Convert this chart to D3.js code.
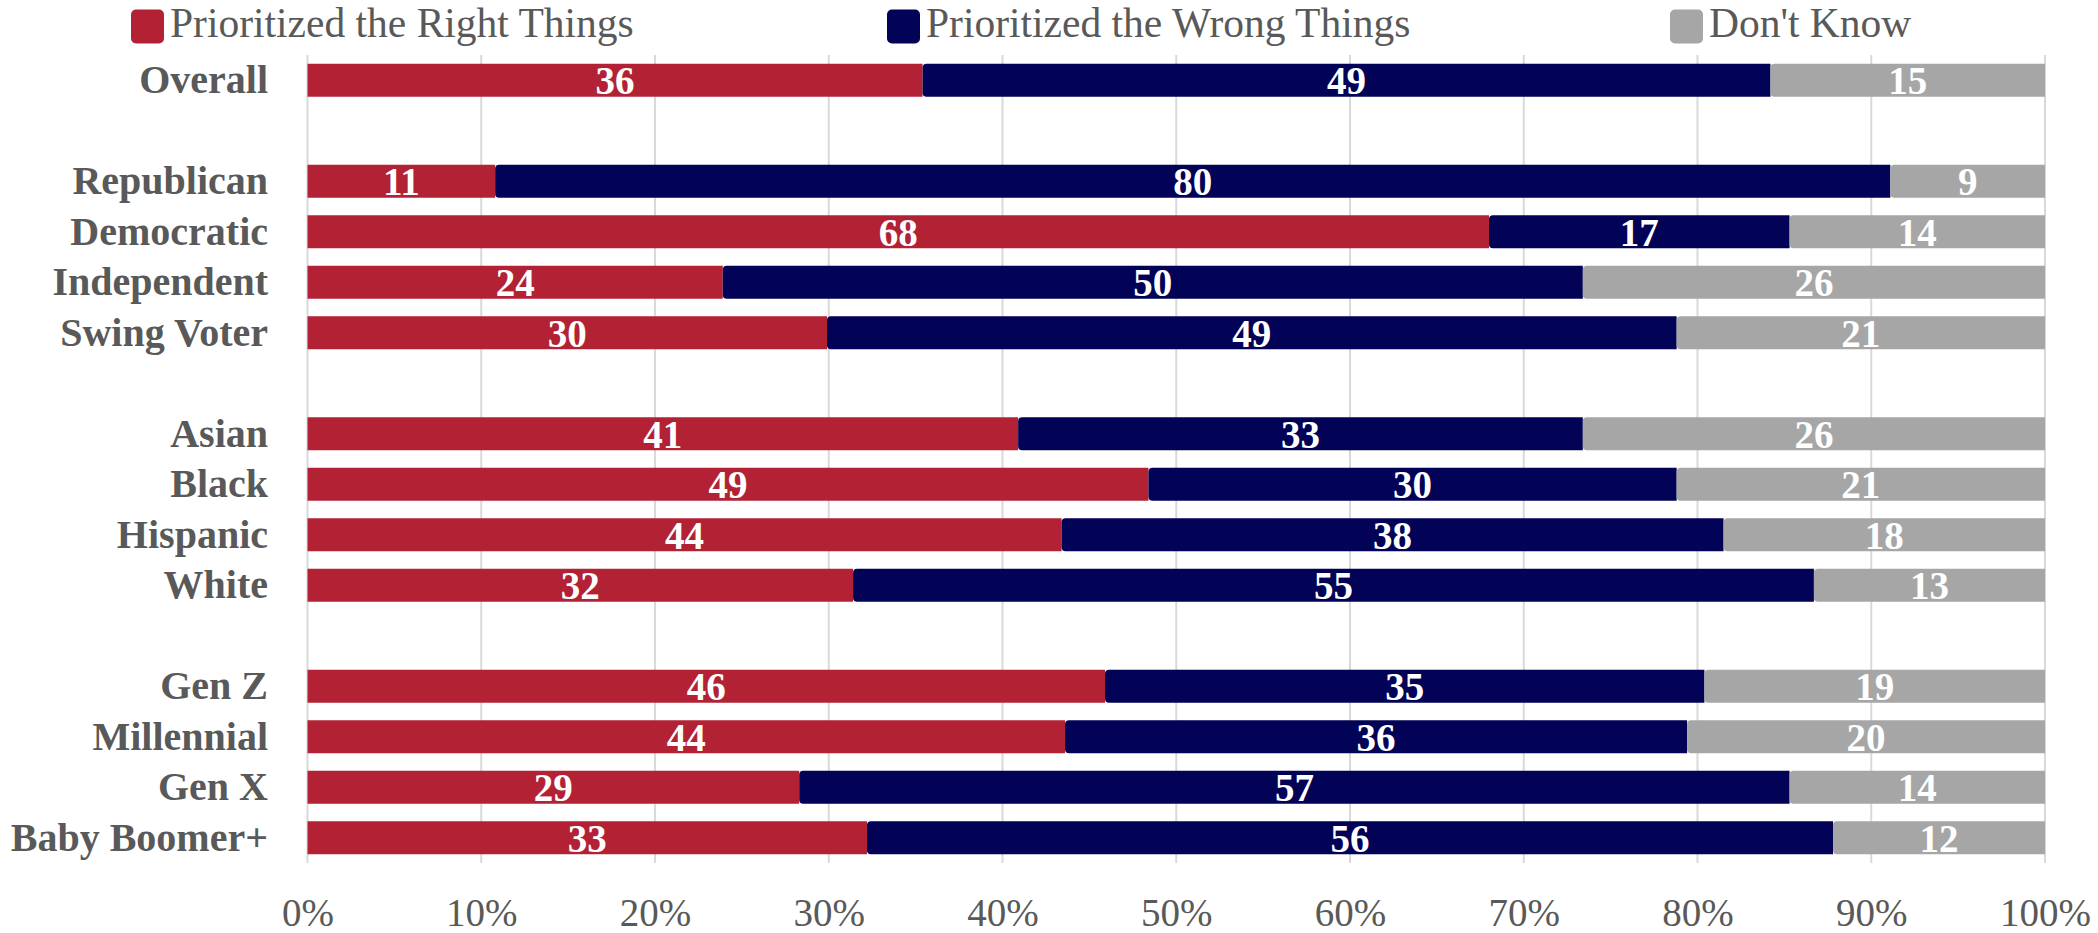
<!DOCTYPE html>
<html><head><meta charset="utf-8">
<script src="https://cdn.jsdelivr.net/npm/d3@7"></script>
<style>html,body{margin:0;padding:0;background:#fff;} svg{display:block}</style>
</head><body>
<svg id="chart" width="2098" height="933"></svg>
<script>
// ---- data ----
const categories = ["Overall","Republican","Democratic","Independent","Swing Voter","Asian","Black","Hispanic","White","Gen Z","Millennial","Gen X","Baby Boomer+"];
const groupOf = [0,1,1,1,1,2,2,2,2,3,3,3,3];
const seriesNames = ["Prioritized the Right Things","Prioritized the Wrong Things","Don't Know"];
// bar shares (%)
const rightThings = [35.4,10.8,68.0,23.9,29.9,40.9,48.4,43.4,31.4,45.9,43.6,28.3,32.2];
const wrongThings = [48.8,80.3,17.3,49.5,48.9,32.5,30.4,38.1,55.3,34.5,35.8,57.0,55.6];
const dontKnow    = [15.8, 8.9,14.7,26.6,21.2,26.6,21.2,18.5,13.3,19.6,20.6,14.7,12.2];
// printed data labels
const rightLabels = [36,11,68,24,30,41,49,44,32,46,44,29,33];
const wrongLabels = [49,80,17,50,49,33,30,38,55,35,36,57,56];
const dkLabels    = [15, 9,14,26,21,26,21,18,13,19,20,14,12];
const tickValues = [0,0.1,0.2,0.3,0.4,0.5,0.6,0.7,0.8,0.9,1.0];
const colors = ["#B22234","#020256","#A6A6A6"];

// ---- build table ----
const keys = ["right","wrong","dk"];
const labelArrays = [rightLabels, wrongLabels, dkLabels];
const rows = categories.map((c,i)=>({cat:c, idx:i, right:rightThings[i], wrong:wrongThings[i], dk:dontKnow[i]}));
const slots = [];
categories.forEach((c,i)=>{ if(i>0 && groupOf[i]!==groupOf[i-1]) slots.push("__gap"+groupOf[i]); slots.push(c); });

const svg = d3.select("#chart");
const x = d3.scaleLinear().domain([0,1]).range([307.5,2045]);
const y = d3.scaleBand().domain(slots).range([55,863]).paddingInner(0.35).paddingOuter(0.175);

const stack = d3.stack().keys(keys).offset(d3.stackOffsetExpand);
const series = stack(rows);

const textColor = "#595959";
const serif = "'Liberation Serif','Times New Roman',serif";

// gridlines
svg.append("g").selectAll("line").data(tickValues).join("line")
  .attr("x1",d=>x(d)).attr("x2",d=>x(d))
  .attr("y1",y.range()[0]).attr("y2",y.range()[1])
  .attr("stroke","#D9D9D9").attr("stroke-width",2);

// x axis labels
const xAxis = d3.axisBottom(x).tickValues(tickValues).tickFormat(d3.format(".0%")).tickSize(0).tickPadding(0);
const gx = svg.append("g").attr("transform","translate(0,926)").call(xAxis);
gx.select(".domain").remove();
gx.selectAll("text").attr("dy",0).attr("y",0)
  .attr("font-family",serif).attr("font-size",39).attr("fill",textColor);

// segment path: rounded left corners except first series
function segPath(x0,x1,yt,h,rounded){
  const r = rounded ? Math.min(4,(x1-x0)/2) : 0;
  return `M${x0+r},${yt} H${x1} V${yt+h} H${x0+r} Q${x0},${yt+h} ${x0},${yt+h-r} V${yt+r} Q${x0},${yt} ${x0+r},${yt} Z`;
}

const gBars = svg.append("g");
series.forEach((s,si)=>{
  gBars.append("g").selectAll("path").data(s).join("path")
    .attr("d",d=>segPath(x(d[0]),x(d[1]),y(d.data.cat),y.bandwidth(),si>0))
    .attr("fill",colors[si]);
});

// value labels
series.forEach((s,si)=>{
  svg.append("g").selectAll("text").data(s).join("text")
    .attr("x",d=>(x(d[0])+x(d[1]))/2)
    .attr("y",d=>y(d.data.cat)+y.bandwidth()/2+14)
    .attr("text-anchor","middle")
    .attr("font-family",serif).attr("font-weight","bold").attr("font-size",39)
    .attr("fill","#ffffff")
    .text(d=>labelArrays[si][d.data.idx]);
});

// category labels
const yAxis = d3.axisLeft(y).tickValues(categories).tickSize(0).tickPadding(0);
const gy = svg.append("g").attr("transform","translate(268,0)").call(yAxis);
gy.select(".domain").remove();
gy.selectAll("text").attr("dy",0).attr("x",0).attr("y",13)
  .attr("font-family",serif).attr("font-weight","bold").attr("font-size",40).attr("fill",textColor);

// legend
const legendX = [131,887,1670];
const lg = svg.append("g").selectAll("g").data(seriesNames).join("g")
  .attr("transform",(d,i)=>`translate(${legendX[i]},0)`);
lg.append("rect").attr("x",0).attr("y",9.5).attr("width",33).attr("height",34).attr("rx",5)
  .attr("fill",(d,i)=>colors[i]);
lg.append("text").attr("x",39).attr("y",37)
  .attr("font-family",serif).attr("font-size",41.5).attr("fill",textColor)
  .text(d=>d);
</script>
</body></html>
